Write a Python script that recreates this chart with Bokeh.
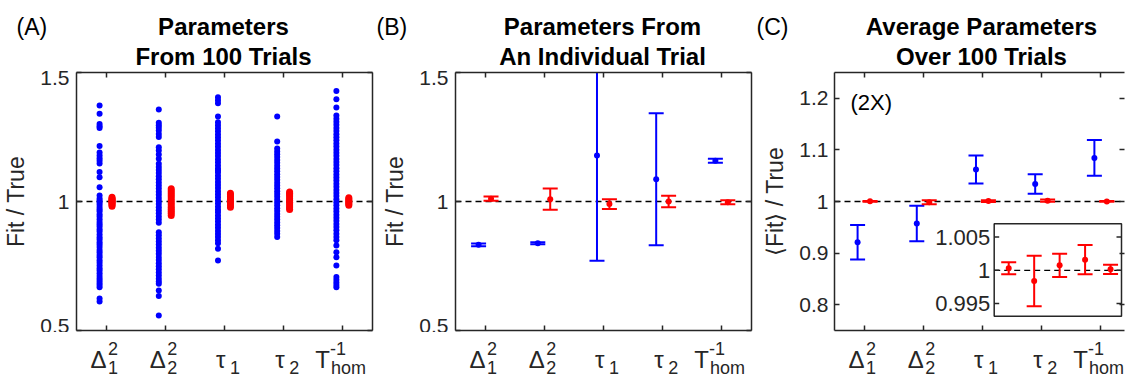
from bokeh.plotting import figure
from bokeh.models import (Range1d, LinearAxis, FixedTicker, Span, Label,
                          CustomJSTickFormatter)
from bokeh.layouts import row, column
from bokeh.embed import file_html
from bokeh.resources import INLINE

# ---------------- data ----------------
categories = [1, 2, 3, 4, 5]
cat_main = ["Δ", "Δ", "τ", "τ", "T"]
cat_sup = ["2", "2", "", "", "-1"]
cat_sub = ["1", "2", "1", "2", "hom"]

# Panel A: parameters from 100 trials (blue / red)
a_blue_d1 = [1.372, 1.340, 1.300, 1.292, 1.285, 1.215, 1.190, 1.178, 1.168, 1.158,
             1.147, 1.114, 1.094, 1.055, 1.023, 1.012, 1.004, 0.997, 0.988, 0.979,
             0.970, 0.962, 0.951, 0.942, 0.931, 0.921, 0.912, 0.903, 0.892, 0.884,
             0.872, 0.861, 0.853, 0.842, 0.833, 0.824, 0.812, 0.803, 0.793, 0.784,
             0.772, 0.763, 0.752, 0.741, 0.733, 0.722, 0.711, 0.702, 0.693, 0.684,
             0.676, 0.668, 0.624, 0.612]
a_red_d1 = [0.982, 0.986, 0.990, 0.994, 0.997, 1.000, 1.003, 1.006, 1.009, 1.012, 1.016]
a_blue_d2 = [1.357, 1.305, 1.296, 1.286, 1.275, 1.262, 1.250, 1.210, 1.198, 1.182,
             1.166, 1.146, 1.134, 1.122, 1.110, 1.098, 1.086, 1.074, 1.062, 1.050,
             1.038, 1.026, 1.014, 1.002, 0.990, 0.978, 0.966, 0.954, 0.942, 0.930,
             0.918, 0.881, 0.869, 0.857, 0.845, 0.833, 0.821, 0.809, 0.797, 0.785,
             0.773, 0.761, 0.749, 0.737, 0.725, 0.713, 0.701, 0.690, 0.681, 0.655,
             0.634, 0.558]
a_red_d2 = [0.946, 0.954, 0.962, 0.970, 0.978, 0.986, 0.994, 1.002, 1.010, 1.018,
            1.026, 1.034, 1.042, 1.049]
a_blue_t1 = [1.404, 1.392, 1.381, 1.329, 1.307, 1.296, 1.284, 1.272, 1.260, 1.248,
             1.236, 1.224, 1.212, 1.200, 1.188, 1.176, 1.164, 1.152, 1.140, 1.128,
             1.120, 1.112, 1.100, 1.088, 1.076, 1.064, 1.052, 1.040, 1.028, 1.016,
             1.004, 0.992, 0.980, 0.968, 0.958, 0.946, 0.934, 0.922, 0.910, 0.898,
             0.886, 0.874, 0.862, 0.850, 0.838, 0.817, 0.771]
a_red_t1 = [0.978, 0.984, 0.990, 0.996, 1.002, 1.008, 1.014, 1.020, 1.026, 1.032]
a_blue_t2 = [1.329, 1.233, 1.205, 1.194, 1.183, 1.172, 1.161, 1.150, 1.139, 1.128,
             1.117, 1.106, 1.095, 1.084, 1.073, 1.062, 1.051, 1.040, 1.029, 1.018,
             1.007, 0.996, 0.985, 0.974, 0.963, 0.952, 0.941, 0.930, 0.919, 0.908,
             0.897, 0.886, 0.875, 0.862]
a_red_t2 = [0.969, 0.976, 0.983, 0.990, 0.997, 1.004, 1.011, 1.018, 1.025, 1.031, 1.037]
a_blue_th = [1.428, 1.396, 1.364, 1.333, 1.321, 1.309, 1.297, 1.285, 1.273, 1.261,
             1.249, 1.237, 1.225, 1.213, 1.201, 1.189, 1.177, 1.165, 1.153, 1.141,
             1.129, 1.117, 1.105, 1.093, 1.081, 1.069, 1.057, 1.045, 1.033, 1.021,
             1.009, 0.997, 0.985, 0.973, 0.961, 0.949, 0.937, 0.925, 0.913, 0.901,
             0.889, 0.875, 0.862, 0.850, 0.829, 0.803, 0.784, 0.752, 0.707, 0.697,
             0.686, 0.676, 0.668]
a_red_th = [0.985, 0.990, 0.995, 1.000, 1.005, 1.010, 1.015]

a_blue = [a_blue_d1, a_blue_d2, a_blue_t1, a_blue_t2, a_blue_th]
a_red = [a_red_d1, a_red_d2, a_red_t1, a_red_t2, a_red_th]

# Panel B: individual trial
b_blue_val = [0.832, 0.838, 1.178, 1.086, 1.158]
b_blue_err = [0.005, 0.004, 0.408, 0.256, 0.008]
b_red_val = [1.011, 1.009, 0.990, 1.000, 0.997]
b_red_err = [0.008, 0.041, 0.019, 0.022, 0.008]

# Panel C: average over 100 trials
c_blue_val = [0.921, 0.9575, 1.062, 1.034, 1.0845]
c_blue_err = [0.0335, 0.0345, 0.027, 0.019, 0.0345]
c_red_val = [1.0003, 0.9984, 1.00075, 1.0016, 1.00015]
c_red_err = [0.0009, 0.0038, 0.00175, 0.0022, 0.0007]

ab_yticks = [0.5, 1.0, 1.5]
ab_ylabels = ["0.5", "1", "1.5"]
c_yticks = [0.8, 0.9, 1.0, 1.1, 1.2]
c_ylabels = ["0.8", "0.9", "1", "1.1", "1.2"]
inset_yticks = [0.995, 1.0, 1.005]
inset_ylabels = ["0.995", "1", "1.005"]

panel_letters = ["(A)", "(B)", "(C)"]
panel_titles = [["Parameters", "From 100 Trials"],
                ["Parameters From", "An Individual Trial"],
                ["Average Parameters", "Over 100 Trials"]]

# ---------------- style / layout ----------------
FONT = "Liberation Sans"
AX = "#262626"
BLUE = "#0000ff"
RED = "#ff0000"
PX_PER_X = 59.2
FRAME_H = 258
TOTAL_W = 1125
TOP_H = 70        # strip holding titles
BOT_H = 43        # strip holding the x tick labels
BLUE_DX = -0.11
RED_DX = 0.10
FRAME_LEFTS = {"A": 75, "B": 454, "C": 833}     # page x of each frame's left edge
LETTER_DX = {"A": -59, "B": -78, "C": -77}
# main glyph right edge, superscript left, subscript left (px from tick)
LABEL_POS = {"Δ": (1.5, 3, 3), "τ": (2, 6.5, 6.5), "T": (-12, -12, -11)}
TITLE_Y = [44, 14]          # strip y of the two title lines
LETTER_Y = 44
TICK_Y = {"main": 16, "sup": 27, "sub": 8}


def make_axis(ticks, labels=None, line=True, standoff=7):
    ax = LinearAxis(ticker=FixedTicker(ticks=ticks),
                    major_tick_in=5, major_tick_out=0,
                    minor_tick_line_color=None,
                    axis_line_color=AX if line else None, axis_line_width=1.5,
                    major_tick_line_color=AX, major_tick_line_width=1.5,
                    major_label_text_font=FONT, major_label_text_color=AX)
    if labels is None:
        ax.formatter = CustomJSTickFormatter(code="return ''")
        ax.major_label_standoff = 0
        ax.major_label_text_font_size = "0px"
    else:
        ax.major_label_overrides = {t: l for t, l in zip(ticks, labels)}
        ax.major_label_standoff = standoff
        ax.major_label_text_font_size = "21px"
    return ax


def strip(height):
    # a full-width text strip; each panel gets an x range lined up with its frame
    s = figure(width=TOTAL_W, height=height,
               x_range=Range1d(0, TOTAL_W), y_range=Range1d(0, height),
               min_border=0, min_border_left=0, min_border_right=0,
               min_border_top=0, min_border_bottom=0,
               x_axis_type=None, y_axis_type=None, title=None,
               output_backend="svg", toolbar_location=None)
    s.outline_line_color = None
    s.extra_x_ranges = {k: Range1d(0.5 - v / PX_PER_X, 0.5 + (TOTAL_W - v) / PX_PER_X)
                        for k, v in FRAME_LEFTS.items()}
    return s


def make_panel(ylim, yticks, ylabels, border_left, border_right, frame_w,
               ylabel, standoff=7, right_line=True):
    p = figure(x_range=Range1d(0.5, 0.5 + frame_w / PX_PER_X),
               y_range=Range1d(*ylim),
               frame_width=frame_w, frame_height=FRAME_H,
               min_border_left=border_left, min_border_right=border_right,
               min_border_top=2, min_border_bottom=2,
               x_axis_type=None, y_axis_type=None, title=None,
               output_backend="svg", toolbar_location=None)
    p.outline_line_color = None
    left = make_axis(yticks, ylabels, standoff=standoff)
    left.axis_label = ylabel
    left.axis_label_text_font = FONT
    left.axis_label_text_font_size = "23px"
    left.axis_label_text_font_style = "normal"
    left.axis_label_text_color = AX
    left.axis_label_standoff = 8
    p.add_layout(left, "left")
    p.add_layout(make_axis(yticks, None, line=right_line), "right")
    p.add_layout(make_axis(categories, None), "below")
    p.add_layout(make_axis(categories, None), "above")
    p.add_layout(Span(location=1.0, dimension="width", line_color="black",
                      line_width=1.3, line_dash="6 4", level="underlay"))
    return p


def errorbars(p, xs, vals, errs, color, **kw):
    lo = [v - e for v, e in zip(vals, errs)]
    hi = [v + e for v, e in zip(vals, errs)]
    p.segment(x0=xs, y0=lo, x1=xs, y1=hi, line_color=color, line_width=2, **kw)
    p.scatter(xs, hi, marker="dash", size=15, line_color=color, line_width=2, **kw)
    p.scatter(xs, lo, marker="dash", size=15, line_color=color, line_width=2, **kw)
    p.scatter(xs, vals, marker="circle", size=6, fill_color=color, line_color=None, **kw)


# ---------------- Panel A ----------------
pA = make_panel((0.5, 1.5), ab_yticks, ab_ylabels, 75, 7, 296, "Fit / True")
for c, vals in zip(categories, a_blue):
    pA.scatter([c + BLUE_DX] * len(vals), vals, size=6, fill_color=BLUE, line_color=None)
for c, vals in zip(categories, a_red):
    pA.scatter([c + RED_DX] * len(vals), vals, size=7, fill_color=RED, line_color=None)

# ---------------- Panel B ----------------
pB = make_panel((0.5, 1.5), ab_yticks, ab_ylabels, 76, 7, 296, "Fit / True")
errorbars(pB, [c + BLUE_DX for c in categories], b_blue_val, b_blue_err, BLUE)
errorbars(pB, [c + RED_DX for c in categories], b_red_val, b_red_err, RED)

# ---------------- Panel C ----------------
C_FRAME_W = 290
pC = make_panel((0.75, 1.25), c_yticks, c_ylabels, 76, 2, C_FRAME_W, "⟨Fit⟩ / True",
                standoff=6, right_line=False)
errorbars(pC, [c + BLUE_DX for c in categories], c_blue_val, c_blue_err, BLUE)
errorbars(pC, [c + RED_DX for c in categories], c_red_val, c_red_err, RED)
pC.add_layout(Label(x=0.5, y=1.25, x_offset=16, y_offset=-30, text="(2X)",
                    text_align="left", text_baseline="alphabetic", text_font=FONT,
                    text_font_size="22px", text_color="black"))

# inset (zoom of the red values), placed with its own ranges
INSET_XLIM = (0.43, 5.43)
INSET_YLIM = (0.9931, 1.0070)
IN_L, IN_T, IN_R, IN_B = 159.7, 151.3, 287.0, 243.7   # px inside C frame
ipx_x = (IN_R - IN_L) / (INSET_XLIM[1] - INSET_XLIM[0])
ipx_y = (IN_B - IN_T) / (INSET_YLIM[1] - INSET_YLIM[0])
pC.extra_x_ranges = {"inset": Range1d(INSET_XLIM[0] - IN_L / ipx_x,
                                      INSET_XLIM[1] + (C_FRAME_W - IN_R) / ipx_x)}
pC.extra_y_ranges = {"inset": Range1d(INSET_YLIM[0] - (FRAME_H - IN_B) / ipx_y,
                                      INSET_YLIM[1] + IN_T / ipx_y)}
ik = dict(x_range_name="inset", y_range_name="inset")
pC.quad(left=INSET_XLIM[0], right=INSET_XLIM[1], bottom=INSET_YLIM[0], top=INSET_YLIM[1],
        fill_color="white", line_color=AX, line_width=1.5, **ik)
pC.segment(x0=INSET_XLIM[0], x1=INSET_XLIM[1], y0=1.0, y1=1.0, line_color="black",
           line_width=1.3, line_dash="6 4", **ik)
tl = 5 / ipx_x
pC.segment(x0=[INSET_XLIM[0]] * 3, x1=[INSET_XLIM[0] + tl] * 3, y0=inset_yticks,
           y1=inset_yticks, line_color=AX, line_width=1.5, **ik)
pC.segment(x0=[INSET_XLIM[1] - tl] * 3, x1=[INSET_XLIM[1]] * 3, y0=inset_yticks,
           y1=inset_yticks, line_color=AX, line_width=1.5, **ik)
errorbars(pC, categories, c_red_val, c_red_err, RED, **ik)
for t, l in zip(inset_yticks, inset_ylabels):
    pC.add_layout(Label(x=INSET_XLIM[0], y=t, x_offset=-4, text=l, text_align="right",
                        text_baseline="middle", text_font=FONT, text_font_size="22px",
                        text_color=AX, **ik))

# ---------------- title strip ----------------
top = strip(TOP_H)
for key, letter, lines in zip(["A", "B", "C"], panel_letters, panel_titles):
    for txt, yb in zip(lines, TITLE_Y):
        top.add_layout(Label(x=3, y=yb, x_range_name=key, text=txt, text_align="center",
                             text_baseline="alphabetic", text_font=FONT,
                             text_font_style="bold", text_font_size="24px",
                             text_color="black"))
    top.add_layout(Label(x=0.5, y=LETTER_Y, x_range_name=key, x_offset=LETTER_DX[key],
                         text=letter, text_align="left", text_baseline="alphabetic",
                         text_font=FONT, text_font_size="23px", text_color="black"))

# ---------------- tick-label strip ----------------
bot = strip(BOT_H)
for key in ["A", "B", "C"]:
    for c, m, sp, sb in zip(categories, cat_main, cat_sup, cat_sub):
        mx, sx, bx = LABEL_POS[m]
        bot.add_layout(Label(x=c, y=TICK_Y["main"], x_range_name=key, x_offset=mx, text=m,
                             text_align="right", text_baseline="alphabetic",
                             text_font=FONT, text_font_size="24px", text_color=AX))
        if sp:
            bot.add_layout(Label(x=c, y=TICK_Y["sup"], x_range_name=key, x_offset=sx,
                                 text=sp, text_align="left", text_baseline="alphabetic",
                                 text_font=FONT, text_font_size="18px", text_color=AX))
        if sb:
            bot.add_layout(Label(x=c, y=TICK_Y["sub"], x_range_name=key, x_offset=bx,
                                 text=sb, text_align="left", text_baseline="alphabetic",
                                 text_font=FONT, text_font_size="18px", text_color=AX))

layout = column(top, row(pA, pB, pC), bot)
open("out.html", "w").write(file_html(layout, INLINE))
